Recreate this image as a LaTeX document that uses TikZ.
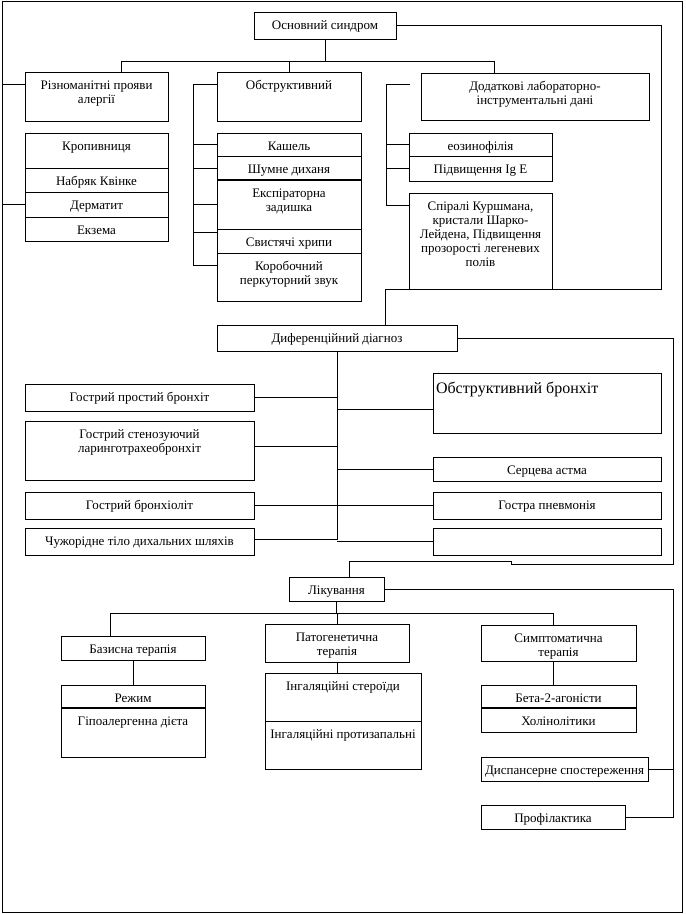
\documentclass[tikz,border=0pt]{standalone}
\usepackage{fontspec}
\setmainfont{Liberation Serif}
\usetikzlibrary{calc}
\newlength\bxgap \setlength\bxgap{7.5pt}
\newcommand\bx[7][\centering]{\node[box] (#2) at (#3,#4) {\parbox[c][#6pt][t]{#5pt}{#1\vspace*{\bxgap}\strut #7\par}};}
\begin{document}
\begin{tikzpicture}[x=1pt,y=-1pt,
  box/.style={draw, line width=0.8pt, inner sep=0pt, outer sep=0pt, anchor=north west},
  ln/.style={line width=0.8pt},
  thk/.style={line width=2pt},
  every node/.style={font=\fontsize{13}{14}\selectfont}]
\useasboundingbox (0,0) rectangle (686,914);
\node[draw, line width=0.8pt, inner sep=0pt, anchor=north west, minimum width=680pt, minimum height=911pt] (frame) at (2,1) {};
% boxes
\bx{osn}{254}{12}{142}{27}{Основний синдром}
\bx{riz}{25}{72}{143}{49}{Різноманітні прояви\\алергії}
\bx{obs}{217}{72}{144}{49}{Обструктивний}
\bx{dod}{421}{73}{228}{47}{Додаткові лабораторно-\\інструментальні дані}
\bx{krop}{25}{133}{143}{35}{Кропивниця}
\bx{nabr}{25}{168}{143}{24}{Набряк Квінке}
\bx{derm}{25}{192}{143}{25}{Дерматит}
\bx{ekz}{25}{217}{143}{24}{Екзема}
\bx{kash}{217}{133}{144}{23}{Кашель}
\bx{shum}{217}{156}{144}{24}{Шумне диханя}
\bx{eksp}{217}{180}{144}{49}{Експіраторна\\задишка}
\bx{svys}{217}{229}{144}{24}{Свистячі хрипи}
\bx{korob}{217}{253}{144}{48}{Коробочний\\перкуторний звук}
\bx{eoz}{409}{133}{143}{23}{еозинофілія}
\bx{pidv}{409}{156}{143}{25}{Підвищення Ig E}
\bx{spir}{409}{193}{143}{96}{Спіралі Куршмана,\\кристали Шарко-\\Лейдена, Підвищення\\прозорості легеневих\\полів}
\bx{dif}{217}{325}{240}{26}{Диференційний діагноз}
\bx{gpb}{25}{384}{229}{27}{Гострий простий бронхіт}
\bx{gsl}{25}{421}{229}{59}{Гострий стенозуючий\\ларинготрахеобронхіт}
\bx{gbr}{25}{492}{229}{27}{Гострий бронхіоліт}
\bx{chuz}{25}{528}{229}{27}{Чужорідне тіло дихальних шляхів}
\bx[\raggedright\vspace*{2pt}]{obr}{433}{373}{228}{60}{\hspace*{3pt}\fontsize{16}{18}\selectfont Обструктивний бронхіт}
\bx{serc}{433}{457}{228}{24}{Серцева астма}
\bx{gpn}{433}{492}{228}{27}{Гостра пневмонія}
\bx{emp}{433}{528}{228}{27}{}
\bx{liky}{289}{577}{95}{24}{Лікування}
\bx{baz}{61}{636}{144}{24}{Базисна терапія}
\bx{rezh}{61}{685}{144}{23}{Режим}
\bx{gipo}{61}{708}{144}{49}{Гіпоалергенна дієта}
\bx{pat}{265}{624}{144}{38}{Патогенетична\\терапія}
\bx{ing1}{265}{673}{156}{48}{Інгаляційні стероїди}
\bx{ing2}{265}{721}{156}{48}{Інгаляційні протизапальні}
\bx{sym}{481}{625}{155}{36}{Симптоматична\\терапія}
\bx{beta}{481}{685}{155}{23}{Бета-2-агоністи}
\bx{hol}{481}{708}{155}{24}{Холінолітики}
\bx{disp}{481}{757}{167}{24}{Диспансерне спостереження}
\bx{prof}{481}{805}{144}{24}{Профілактика}
% thick separators
\draw[thk] (shum.south west) -- (shum.south east);
\draw[thk] (rezh.south west) -- (rezh.south east);
\draw[thk] (beta.south west) -- (beta.south east);
% top tree
\coordinate (t1) at (121,61); \coordinate (t2) at (494,61);
\draw[ln] (osn.south) -- (osn.south |- t1);
\draw[ln] (riz.north -| t1) -- (t1) -- (t2) -- (dod.north -| t2);
\draw[ln] (obs.north) -- (obs.north |- t1);
% right loop 1
\coordinate (r1) at (661,25.5); \coordinate (r2) at (661,289); \coordinate (r3) at (385,289);
\draw[ln] (osn.east) -- (r1) -- (r2) -- (r3) -- (dif.north -| r3);
% left frame links
\coordinate (l1) at (2,84);
\draw[ln] (l1) -- (l1 -| riz.west);
\draw[ln] (derm.west) -- (derm.west -| frame.west);
% obstructive bracket
\coordinate (a1) at (193,84); \coordinate (a2) at (193,265); \coordinate (a3) at (193,232);
\draw[ln] (a1) -- (a2);
\draw[ln] (a1) -- (a1 -| obs.west);
\draw[ln] (kash.west) -- (kash.west -| a1);
\draw[ln] (shum.west) -- (shum.west -| a1);
\draw[ln] (eksp.west) -- (eksp.west -| a1);
\draw[ln] (a3) -- (a3 -| svys.west);
\draw[ln] (a2) -- (a2 -| korob.west);
% additional data bracket
\coordinate (d0) at (410,84); \coordinate (d1) at (386,84); \coordinate (d2) at (386,205);
\draw[ln] (d0) -- (d1) -- (d2) -- (d2 -| spir.west);
\draw[ln] (eoz.west) -- (eoz.west -| d1);
\draw[ln] (pidv.west) -- (pidv.west -| d1);
% differential tree
\coordinate (m1) at (337,540); \coordinate (m2) at (337,446); \coordinate (m3) at (337,539); \coordinate (m4) at (337,409);
\draw[ln] (dif.south) -- (dif.south |- m1);
\draw[ln] (gpb.east) -- (gpb.east -| m1);
\draw[ln] (m2) -- (m2 -| gsl.east);
\draw[ln] (gbr.east) -- (gbr.east -| m1);
\draw[ln] (m3) -- (m3 -| chuz.east);
\draw[ln] (m4) -- (m4 -| obr.west);
\draw[ln] (serc.west) -- (serc.west -| m1);
\draw[ln] (gpn.west) -- (gpn.west -| m1);
\draw[ln] (emp.west) -- (emp.west -| m1);
% right loop 2
\coordinate (q1) at (673,338); \coordinate (q2) at (673,564); \coordinate (q3) at (511,564); \coordinate (q4) at (511,561); \coordinate (q5) at (349,561);
\draw[ln] (dif.east) -- (dif.east -| q1) -- (q2) -- (q3) -- (q4) -- (q5) -- (liky.north -| q5);
% treatment tree
\coordinate (k1) at (110,613); \coordinate (k2) at (553,613);
\draw[ln] (liky.south) -- (liky.south |- k1);
\draw[ln] (baz.north -| k1) -- (k1) -- (k2) -- (sym.north -| k2);
\draw[ln] (pat.north) -- (pat.north |- k1);
\draw[ln] (baz.south) -- (rezh.north);
\draw[ln] (pat.south) -- (pat.south |- ing1.north);
\draw[ln] (sym.south -| k2) -- (beta.north -| k2);
% right loop 3
\coordinate (p1) at (673,589);
\draw[ln] (liky.east) -- (liky.east -| p1) -- (p1 |- prof.east) -- (prof.east);
\draw[ln] (disp.east) -- (disp.east -| p1);
\end{tikzpicture}
\end{document}
